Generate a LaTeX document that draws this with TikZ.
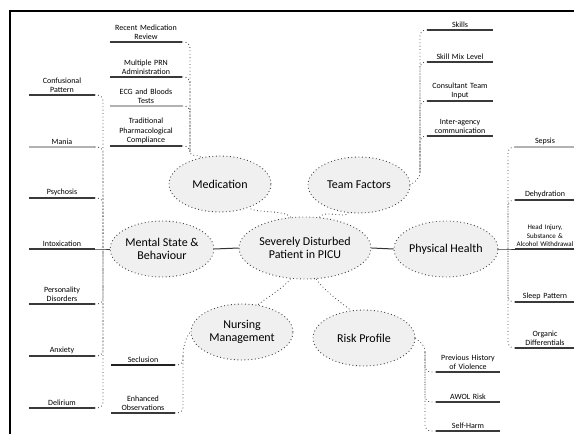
\documentclass[tikz,border=0pt]{standalone}
\usepackage{fontspec}
\setmainfont{Carlito}
\usetikzlibrary{shapes.geometric}
\begin{document}
\begin{tikzpicture}[x=1pt,y=-1pt,
  topic/.style={ellipse, draw=gray!55!black, fill=gray!12,
    line width=0.9pt, dash pattern=on 0.9pt off 2.6pt,
    minimum width=102pt, minimum height=56pt, inner sep=0pt,
    align=center, font=\fontsize{12}{13.5}\selectfont},
  leaf/.style={anchor=south, align=center, inner xsep=0pt, inner ysep=2pt,
    font=\fontsize{8}{9.5}\selectfont},
  uline/.style={line width=1.8pt, gray!45!black},
  ulight/.style={line width=2.2pt, gray!60},
  conn/.style={gray!45!black, line width=0.8pt, dash pattern=on 0.8pt off 2.6pt, rounded corners=6pt},
  link/.style={gray!40!black, line width=1pt}]
\useasboundingbox (0,0) rectangle (574,434);

% frame
\draw[line width=2pt] (10,434) -- (10,11) -- (574,11);

% central topic and main branches
\node[topic, minimum width=132pt, minimum height=62pt] (ctr) at (305,248) {Severely Disturbed\\Patient in PICU};
\node[topic] (med) at (220,184) {Medication};
\node[topic] (team) at (359,185) {Team Factors};
\node[topic] (men) at (162,249) {Mental State \&\\Behaviour};
\node[topic] (phy) at (446,249) {Physical Health};
\node[topic] (nur) at (242,332) {Nursing\\Management};
\node[topic] (risk) at (364,338) {Risk Profile};

\draw[link] (men.east) -- (ctr.west);
\draw[link] (ctr.east) -- (phy.west);
\draw[conn] (ctr.115) .. controls +(-6,-8) and +(8,6) .. (med.-40);
\draw[conn] (ctr.65) .. controls +(6,-8) and +(-4,6) .. (team.-110);
\draw[conn] (ctr.-115) .. controls +(-8,10) and +(10,-8) .. (nur.60);
\draw[conn] (ctr.-70) .. controls +(6,10) and +(-8,-6) .. (risk.115);

% medication leaves
\begin{scope}[every node/.append style={text width=72pt}]
\node[leaf] (m1) at (146,42) {Recent Medication\\Review};
\node[leaf] (m2) at (146,77) {Multiple PRN\\Administration};
\node[leaf] (m3) at (146,106) {ECG and Bloods\\Tests};
\node[leaf] (m4) at (146,146) {Traditional\\Pharmacological\\Compliance};
\end{scope}
\draw[uline] (m1.south west) -- (m1.south east);
\draw[uline] (m2.south west) -- (m2.south east);
\draw[ulight] (m3.south west) -- (m3.south east);
\draw[uline] (m4.south west) -- (m4.south east);
\coordinate (medj) at (190,150);
\foreach \n in {m1,m2,m3,m4} \draw[conn] (\n.south east) -| (medj);
\draw[conn] (medj) .. controls +(0,8) and +(-6,-4) .. (med.125);

% team factor leaves
\begin{scope}[every node/.append style={text width=65pt}]
\node[leaf] (t1) at (460,30) {Skills};
\node[leaf] (t2) at (460,62) {Skill Mix Level};
\node[leaf] (t3) at (460,101) {Consultant Team\\Input};
\node[leaf] (t4) at (460,136) {Inter-agency\\communication};
\end{scope}
\foreach \n in {t1,t2,t3,t4} \draw[uline] (\n.south west) -- (\n.south east);
\coordinate (teamj) at (420,172);
\foreach \n in {t1,t2,t3,t4} \draw[conn] (\n.south west) -| (teamj);
\draw[conn] (teamj) .. controls +(0,8) and +(4,-4) .. (team.east);

% mental state leaves
\begin{scope}[every node/.append style={text width=65pt}]
\node[leaf] (s1) at (62,95) {Confusional\\Pattern};
\node[leaf] (s2) at (62,147) {Mania};
\node[leaf] (s3) at (62,198) {Psychosis};
\node[leaf] (s4) at (62,249) {Intoxication};
\node[leaf] (s5) at (62,304) {Personality\\Disorders};
\node[leaf] (s6) at (62,356) {Anxiety};
\node[leaf] (s7) at (62,408) {Delirium};
\end{scope}
\foreach \n in {s1,s3,s4,s5,s6,s7} \draw[uline] (\n.south west) -- (\n.south east);
\draw[ulight] (s2.south west) -- (s2.south east);
\coordinate (menj) at (103,249);
\foreach \n in {s1,s2,s3,s5,s6,s7} \draw[conn] (\n.south east) -| (menj);
\draw[link] (s4.south east) -- (menj) -- (men.west);

% physical health leaves
\begin{scope}[every node/.append style={text width=60pt}]
\node[leaf] (p1) at (545,147) {Sepsis};
\node[leaf] (p2) at (545,200) {Dehydration};
\node[leaf, font=\fontsize{7}{8.5}\selectfont] (p3) at (545,249) {Head Injury,\\Substance \&\\Alcohol Withdrawal};
\node[leaf] (p4) at (545,302) {Sleep Pattern};
\node[leaf] (p5) at (545,348) {Organic\\Differentials};
\end{scope}
\draw[ulight] (p1.south west) -- (p1.south east);
\foreach \n in {p2,p3,p4,p5} \draw[uline] (\n.south west) -- (\n.south east);
\coordinate (phyj) at (508,249);
\foreach \n in {p1,p2,p4,p5} \draw[conn] (\n.south west) -| (phyj);
\draw[link] (phy.east) -- (phyj) -- (p3.south west);

% nursing management leaves
\begin{scope}[every node/.append style={text width=63pt}]
\node[leaf] (n1) at (143,365) {Seclusion};
\node[leaf] (n2) at (143,413) {Enhanced\\Observations};
\end{scope}
\draw[line width=2.2pt, gray!25!black] (n1.south west) -- (n1.south east);
\draw[uline] (n2.south west) -- (n2.south east);
\coordinate (nurj) at (183,356);
\foreach \n in {n1,n2} \draw[conn] (\n.south east) -| (nurj);
\draw[conn] (nurj) .. controls +(0,-10) and +(-4,4) .. (nur.west);

% risk profile leaves
\begin{scope}[every node/.append style={text width=64pt}]
\node[leaf] (r1) at (468,372) {Previous History\\of Violence};
\node[leaf] (r2) at (468,402) {AWOL Risk};
\node[leaf] (r3) at (468,431) {Self-Harm};
\end{scope}
\foreach \n in {r1,r2,r3} \draw[uline] (\n.south west) -- (\n.south east);
\coordinate (riskj) at (425,352);
\foreach \n in {r1,r2,r3} \draw[conn] (\n.south west) -| (riskj);
\draw[conn] (riskj) .. controls +(0,-8) and +(4,4) .. (risk.east);
\end{tikzpicture}
\end{document}
